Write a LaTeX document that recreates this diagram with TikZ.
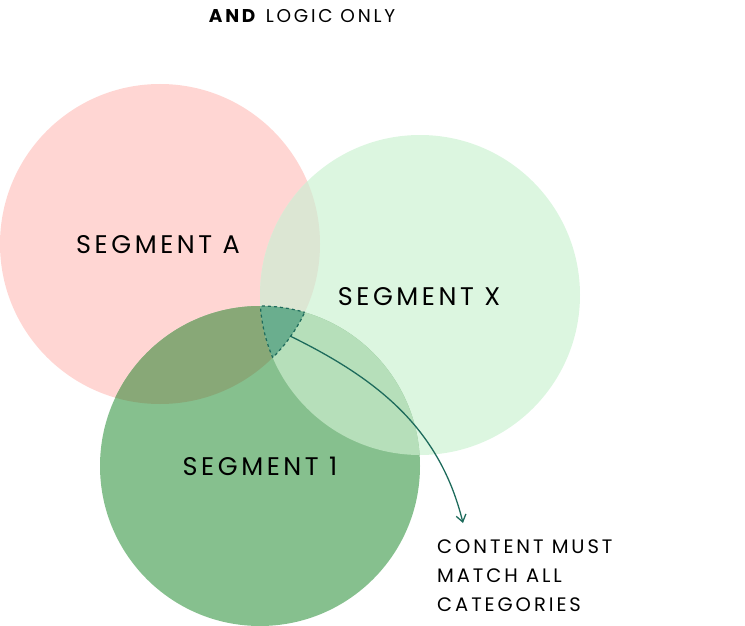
\documentclass[tikz,border=0pt]{standalone}
\usepackage{fontspec}
\setmainfont{Poppins}[LetterSpace=14]
\newfontfamily\wide{Poppins}[LetterSpace=15]
\usetikzlibrary{arrows.meta}
\definecolor{pinkA}{HTML}{FFD6D3}
\definecolor{greenX}{HTML}{DCF6E0}
\definecolor{green1}{HTML}{86C08E}
\definecolor{ax}{HTML}{DCE6D3}
\definecolor{a1}{HTML}{88A877}
\definecolor{x1}{HTML}{B6DFBA}
\definecolor{tri}{HTML}{6AAE8E}
\definecolor{teal}{HTML}{1E6B5C}
\begin{document}
\begin{tikzpicture}[x=1pt,y=-1pt,
 lbl/.style={font=\fontsize{25.5}{30}\selectfont,text=black},
 small/.style={font=\wide\fontsize{19.5}{29}\selectfont,align=left,text=black}]
\useasboundingbox (0,0) rectangle (745,626);
\def\cA{(160,244) circle (160)}
\def\cX{(420,295) circle (160)}
\def\cI{(260,466) circle (160)}
\fill[pinkA] \cA;
\fill[greenX] \cX;
\begin{scope}\clip \cA; \fill[ax] \cX; \end{scope}
\fill[green1] \cI;
\begin{scope}\clip \cI; \fill[a1] \cA; \end{scope}
\begin{scope}\clip \cI; \fill[x1] \cX; \end{scope}
\begin{scope}\clip \cI; \clip \cA; \fill[tri] \cX; \end{scope}
\begin{scope}\clip \cI; \clip \cA; \draw[teal,dashed,line width=1.2] \cX; \end{scope}
\begin{scope}\clip \cI; \clip \cX; \draw[teal,dashed,line width=1.2] \cA; \end{scope}
\begin{scope}\clip \cA; \clip \cX; \draw[teal,dashed,line width=1.2] \cI; \end{scope}
\node[lbl] (la) at (158,245) {SEGMENT A};
\node[lbl] (lx) at (419,297) {SEGMENT X};
\node[lbl] (l1) at (260,466) {SEGMENT 1};
\node[font=\wide\fontsize{18.5}{20}\selectfont] (title) at (302,16) {\textbf{AND} LOGIC ONLY};
\coordinate (s) at (290,336);
\coordinate (e) at (463,523);
\draw[teal,line width=1.3,-{Straight Barb[length=7,width=10]}] (s) .. controls (380,380) and (440,430) .. (e);
\node[small,anchor=north west,inner sep=0] (note) at (437,540) {CONTENT MUST\\MATCH ALL\\CATEGORIES};
\end{tikzpicture}
\end{document}
